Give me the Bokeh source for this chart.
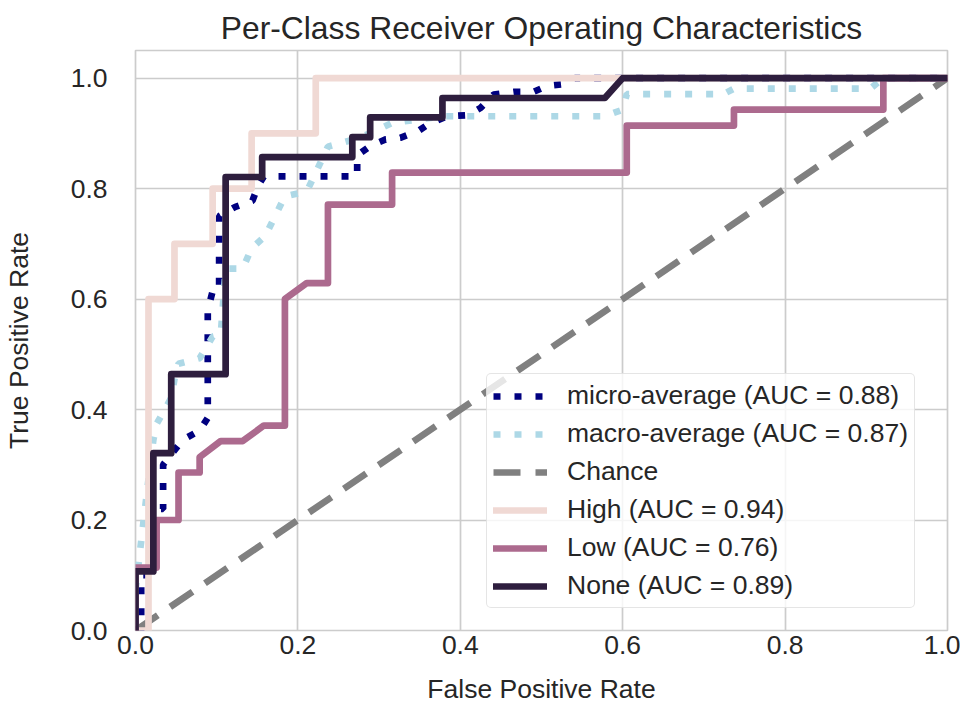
from bokeh.plotting import figure
from bokeh.models import Range1d, FixedTicker, PrintfTickFormatter, Legend, LegendItem
from bokeh.embed import file_html
from bokeh.resources import INLINE

# ROC curve points per class (false positive rate, true positive rate)
high_fpr = [0.0, 0.016, 0.016, 0.048, 0.048, 0.095, 0.095, 0.143, 0.143, 0.222, 0.222, 1.0]
high_tpr = [0.0, 0.0, 0.6, 0.6, 0.7, 0.7, 0.8, 0.8, 0.9, 0.9, 1.0, 1.0]

low_fpr = [0.0, 0.0, 0.026, 0.026, 0.053, 0.053, 0.079, 0.079, 0.105, 0.132, 0.158, 0.184,
           0.184, 0.211, 0.237, 0.237, 0.316, 0.316, 0.605, 0.605, 0.737, 0.737, 0.921, 0.921, 1.0]
low_tpr = [0.0, 0.114, 0.114, 0.2, 0.2, 0.286, 0.286, 0.314, 0.343, 0.343, 0.371, 0.371,
           0.6, 0.629, 0.629, 0.771, 0.771, 0.829, 0.829, 0.914, 0.914, 0.943, 0.943, 1.0, 1.0]

none_fpr = [0.0, 0.0, 0.022, 0.022, 0.044, 0.044, 0.111, 0.111, 0.156, 0.156, 0.267, 0.267,
            0.289, 0.289, 0.378, 0.378, 0.578, 0.6, 1.0]
none_tpr = [0.0, 0.107, 0.107, 0.321, 0.321, 0.464, 0.464, 0.821, 0.821, 0.857, 0.857, 0.893,
            0.893, 0.929, 0.929, 0.964, 0.964, 1.0, 1.0]

micro_fpr = [0.0, 0.007, 0.007, 0.021, 0.021, 0.034, 0.034, 0.058, 0.079, 0.089, 0.089, 0.096,
             0.103, 0.103, 0.123, 0.144, 0.151, 0.158, 0.273, 0.273, 0.289, 0.308, 0.326, 0.349,
             0.361, 0.384, 0.41, 0.425, 0.441, 0.466, 0.49, 0.507, 0.532, 0.541, 1.0]
micro_tpr = [0.0, 0.0, 0.1, 0.1, 0.22, 0.22, 0.3, 0.345, 0.362, 0.385, 0.58, 0.62,
             0.62, 0.75, 0.767, 0.778, 0.805, 0.822, 0.822, 0.86, 0.877, 0.889, 0.892, 0.905,
             0.917, 0.931, 0.933, 0.946, 0.97, 0.975, 0.975, 0.986, 0.99, 1.0, 1.0]

macro_fpr = [0.0, 0.016, 0.022, 0.026, 0.044, 0.048, 0.053, 0.079, 0.095, 0.105, 0.111, 0.132,
             0.143, 0.156, 0.158, 0.184, 0.211, 0.222, 0.237, 0.267, 0.289, 0.316, 0.378, 0.578,
             0.6, 0.605, 0.724, 0.737, 0.905, 0.921, 1.0]
macro_tpr = [0.074, 0.274, 0.345, 0.374, 0.421, 0.455, 0.483, 0.493, 0.532, 0.536, 0.655, 0.655,
             0.692, 0.709, 0.709, 0.786, 0.795, 0.829, 0.876, 0.888, 0.9, 0.919, 0.931, 0.931,
             0.943, 0.971, 0.971, 0.981, 0.981, 1.0, 1.0]

chance = [0.0, 1.0]

class_names = ["High", "Low", "None"]
class_auc = [0.94, 0.76, 0.89]
micro_auc = 0.88
macro_auc = 0.87

xticks = [0.0, 0.2, 0.4, 0.6, 0.8, 1.0]
yticks = [0.0, 0.2, 0.4, 0.6, 0.8, 1.0]

FONT = "Liberation Sans"
TEXT = "#262626"
GRID = "#cccccc"
LW = 6.7

p = figure(width=960, height=708, x_range=Range1d(0, 1), y_range=Range1d(0, 1.05),
           output_backend="svg", toolbar_location=None,
           min_border_left=135, min_border_right=13, min_border_top=50, min_border_bottom=78)

p.title.text = "Per-Class Receiver Operating Characteristics"
p.title.align = "center"
p.title.text_font = FONT
p.title.text_font_size = "31.8px"
p.title.text_font_style = "normal"
p.title.text_color = TEXT
p.title.standoff = 10

p.background_fill_color = "white"
p.border_fill_color = "white"
p.outline_line_color = GRID
p.outline_line_width = 1.7

for ax, ticks in ((p.xaxis, xticks), (p.yaxis, yticks)):
    ax.ticker = FixedTicker(ticks=ticks)
    ax.formatter = PrintfTickFormatter(format="%.1f")
    ax.major_tick_out = 0
    ax.major_tick_in = 0
    ax.minor_tick_out = 0
    ax.minor_tick_in = 0
    ax.axis_line_color = None
    ax.major_label_text_font = FONT
    ax.major_label_text_font_size = "26.5px"
    ax.major_label_text_color = TEXT
    ax.axis_label_text_font = FONT
    ax.axis_label_text_font_size = "26.5px"
    ax.axis_label_text_font_style = "normal"
    ax.axis_label_text_color = TEXT

p.xaxis.axis_label = "False Positive Rate"
p.yaxis.axis_label = "True Positive Rate"
p.xaxis.major_label_standoff = 5
p.yaxis.major_label_standoff = 28
p.xaxis.axis_label_standoff = 17
p.yaxis.axis_label_standoff = 34

p.grid.grid_line_color = GRID
p.grid.grid_line_width = 1.7

r_micro = p.line(micro_fpr, micro_tpr, line_color="navy", line_width=LW, line_dash="7 14")
r_macro = p.line(macro_fpr, macro_tpr, line_color="#add8e6", line_width=LW, line_dash="7 14")
r_chance = p.line(chance, chance, line_color="#808080", line_width=LW, line_dash="27 15")

class_colors = ["#f0d9d4", "#ac6a8e", "#2e1e3e"]
class_data = [(high_fpr, high_tpr), (low_fpr, low_tpr), (none_fpr, none_tpr)]
class_renderers = []
for (fx, ty), color in zip(class_data, class_colors):
    r = p.line(fx, ty, line_color=color, line_width=LW, line_join="round", line_cap="round")
    class_renderers.append(r)

items = [
    LegendItem(label="micro-average (AUC = %.2f)" % micro_auc, renderers=[r_micro]),
    LegendItem(label="macro-average (AUC = %.2f)" % macro_auc, renderers=[r_macro]),
    LegendItem(label="Chance", renderers=[r_chance]),
]
for name, auc, r in zip(class_names, class_auc, class_renderers):
    items.append(LegendItem(label="%s (AUC = %.2f)" % (name, auc), renderers=[r]))

legend = Legend(items=items, location=(351, 22), margin=0, padding=6,
                glyph_width=54, glyph_height=30, label_height=30, spacing=7,
                label_standoff=20, label_text_font=FONT, label_text_font_size="26.5px",
                label_text_color=TEXT, border_line_color=GRID, border_line_width=1.7,
                border_radius=5, background_fill_color="white", background_fill_alpha=0.8)
p.add_layout(legend)

open("out.html", "w").write(file_html(p, INLINE))
